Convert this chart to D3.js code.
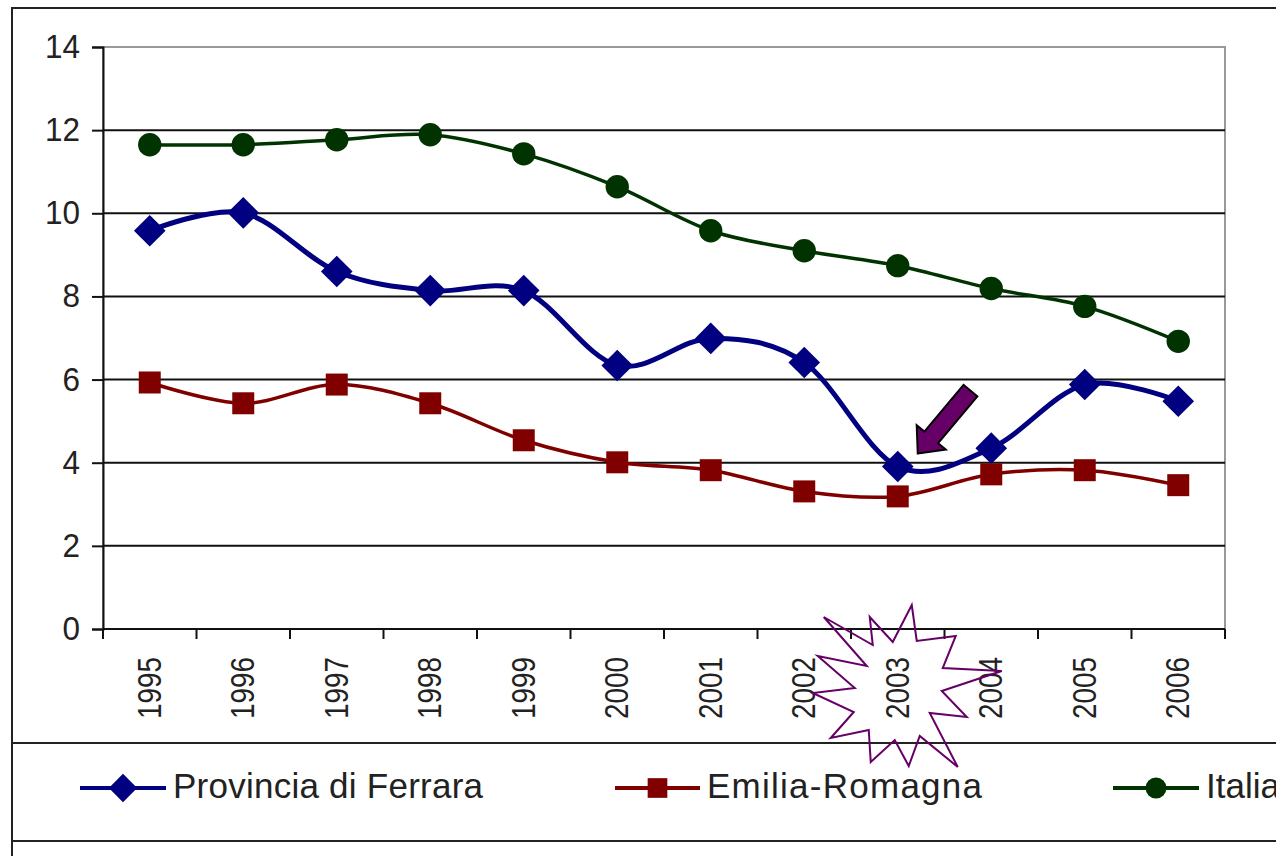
<!DOCTYPE html>
<html>
<head>
<meta charset="utf-8">
<script src="https://cdn.jsdelivr.net/npm/d3@7.9.0/dist/d3.min.js"></script>
<style>
  html, body { margin: 0; padding: 0; background: #fff; }
  svg { display: block; font-family: "Liberation Sans", Arial, sans-serif; }
</style>
</head>
<body>
<svg id="chart" width="1276" height="856"></svg>
<script>
// --- data ---
const years = ['1995', '1996', '1997', '1998', '1999', '2000', '2001', '2002', '2003', '2004', '2005', '2006'];
const ferrara = [9.58, 10.01, 8.6, 8.14, 8.14, 6.34, 6.99, 6.41, 3.91, 4.35, 5.88, 5.48];
const emilia = [5.93, 5.43, 5.88, 5.43, 4.54, 4.01, 3.82, 3.31, 3.19, 3.72, 3.82, 3.46];
const italia = [11.65, 11.65, 11.77, 11.89, 11.43, 10.64, 9.58, 9.1, 8.74, 8.19, 7.76, 6.92];
const yTicks = [0, 2, 4, 6, 8, 10, 12, 14];
const seriesNames = ['Provincia di Ferrara', 'Emilia-Romagna', 'Italia'];

// highlighted year (arrow + starburst)
const highlightYear = '2003';
// starburst outline, offsets from the label centre
const starPts = [[14,-83],[19,-47],[58,-52],[45,-20],[104,-17],[44,3],[69,29],[32,25],[60,79],[22,48],
  [11,78],[-3,52],[-27,74],[-29,42],[-67,50],[-44,24],[-85,5],[-43,0],[-80,-32],[-31,-22],
  [-74,-71],[-25,-43],[-28,-71],[-5,-46]];

const svg = d3.select('#chart');

// --- outer frame + legend box ---
svg.append('rect').attr('x', 12).attr('y', 8).attr('width', 1300).attr('height', 900)
  .attr('fill', 'none').attr('stroke', '#222').attr('stroke-width', 2);
[743, 841].forEach(yy => {
  svg.append('line').attr('x1', 12).attr('x2', 1276).attr('y1', yy).attr('y2', yy)
    .attr('stroke', '#222').attr('stroke-width', 2);
});

// --- scales ---
const plotL = 103, plotR = 1225, plotT = 47, plotB = 629;
const x = d3.scaleBand().domain(years).range([plotL, plotR]);
const y = d3.scaleLinear().domain([0, 14]).range([plotB, plotT]);
const cx = d => x(d) + x.bandwidth() / 2;

// plot border (grey) and gridlines
svg.append('rect').attr('x', plotL).attr('y', plotT).attr('width', plotR - plotL).attr('height', plotB - plotT)
  .attr('fill', 'none').attr('stroke', '#999').attr('stroke-width', 2);
svg.append('g').selectAll('line').data(yTicks.filter(t => t > 0 && t < 14)).join('line')
  .attr('x1', plotL).attr('x2', plotR).attr('y1', d => y(d)).attr('y2', d => y(d))
  .attr('stroke', '#111').attr('stroke-width', 2);

// y axis
const yAxis = svg.append('g').attr('transform', `translate(${plotL},0)`)
  .call(d3.axisLeft(y).tickValues(yTicks).tickSize(11).tickPadding(12));
yAxis.select('.domain').attr('stroke', '#111').attr('stroke-width', 2);
yAxis.selectAll('.tick line').attr('stroke', '#111').attr('stroke-width', 2);
yAxis.selectAll('.tick text').attr('font-size', 33).attr('fill', '#222')
  .attr('font-family', '"Liberation Sans", Arial, sans-serif')
  .attr('textLength', d => String(d).length * 17.5).attr('lengthAdjust', 'spacingAndGlyphs');

// x axis
const xAxis = svg.append('g').attr('transform', `translate(0,${plotB})`);
xAxis.append('line').attr('x1', plotL).attr('x2', plotR).attr('stroke', '#111').attr('stroke-width', 2);
const bounds = years.map(d => x(d)).concat([plotR]);
xAxis.selectAll('line.tk').data(bounds).join('line').attr('class', 'tk')
  .attr('x1', d => d).attr('x2', d => d).attr('y1', 0).attr('y2', 10)
  .attr('stroke', '#111').attr('stroke-width', 2);
xAxis.selectAll('text').data(years).join('text')
  .attr('transform', d => `translate(${cx(d) + 11},${28}) rotate(-90)`)
  .attr('text-anchor', 'end')
  .attr('font-size', 33).attr('fill', '#222')
  .attr('textLength', 62).attr('lengthAdjust', 'spacingAndGlyphs')
  .text(d => d);

// --- series ---
const series = [
  { name: seriesNames[0], values: ferrara, color: '#000080', width: 5, symbol: 'diamond', len: 310 },
  { name: seriesNames[1], values: emilia, color: '#800000', width: 3.5, symbol: 'square', len: 275 },
  { name: seriesNames[2], values: italia, color: '#003300', width: 3.5, symbol: 'circle', len: null }
];

const line = d3.line().x((d, i) => cx(years[i])).y(d => y(d)).curve(d3.curveCardinal.tension(0));

function symbolPath(s, k) {
  if (s.symbol === 'diamond') return d3.symbol(d3.symbolSquare, 500 * k)();
  if (s.symbol === 'square') return d3.symbol(d3.symbolSquare, 484 * k)();
  return d3.symbol(d3.symbolCircle, 430 * k)();
}

series.forEach(s => {
  const g = svg.append('g');
  g.append('path').datum(s.values).attr('d', line)
    .attr('fill', 'none').attr('stroke', s.color).attr('stroke-width', s.width);
  g.selectAll('path.m').data(s.values).join('path').attr('class', 'm')
    .attr('d', symbolPath(s, 1))
    .attr('transform', (d, i) => `translate(${cx(years[i])},${y(d)})` + (s.symbol === 'diamond' ? ' rotate(45)' : ''))
    .attr('fill', s.color);
});

// --- arrow pointing at the highlighted Ferrara value ---
const hi = years.indexOf(highlightYear);
const tipX = cx(highlightYear) + 20, tipY = y(ferrara[hi]) - 13;
const arrowPts = [[0, 0], [-21, -19], [-21, -9], [-82, -9], [-82, 9], [-21, 9], [-21, 19]];
svg.append('path')
  .attr('d', d3.line()(arrowPts) + 'Z')
  .attr('transform', `translate(${tipX},${tipY}) rotate(130)`)
  .attr('fill', '#660066').attr('stroke', '#000').attr('stroke-width', 2).attr('stroke-linejoin', 'miter');

// --- starburst around the highlighted year label ---
const starC = [cx(highlightYear), 688];
svg.append('path')
  .attr('d', d3.line()(starPts.map(p => [starC[0] + p[0], starC[1] + p[1]])) + 'Z')
  .attr('fill', 'none').attr('stroke', '#660066').attr('stroke-width', 2);

// --- legend ---
const legendY = 788;
const legendPos = [{ x1: 80, x2: 166, t: 173 }, { x1: 615, x2: 700, t: 707 }, { x1: 1113, x2: 1199, t: 1206 }];
series.forEach((s, i) => {
  const p = legendPos[i];
  const g = svg.append('g');
  g.append('line').attr('x1', p.x1).attr('x2', p.x2).attr('y1', legendY).attr('y2', legendY)
    .attr('stroke', s.color).attr('stroke-width', 4);
  g.append('path').attr('d', symbolPath(s, 0.8))
    .attr('transform', `translate(${(p.x1 + p.x2) / 2},${legendY})` + (s.symbol === 'diamond' ? ' rotate(45)' : ''))
    .attr('fill', s.color);
  const t = g.append('text').attr('x', p.t).attr('y', 798).attr('font-size', 35).attr('fill', '#222')
    .text(s.name);
  if (s.len) t.attr('textLength', s.len).attr('lengthAdjust', 'spacing');
});
</script>
</body>
</html>
